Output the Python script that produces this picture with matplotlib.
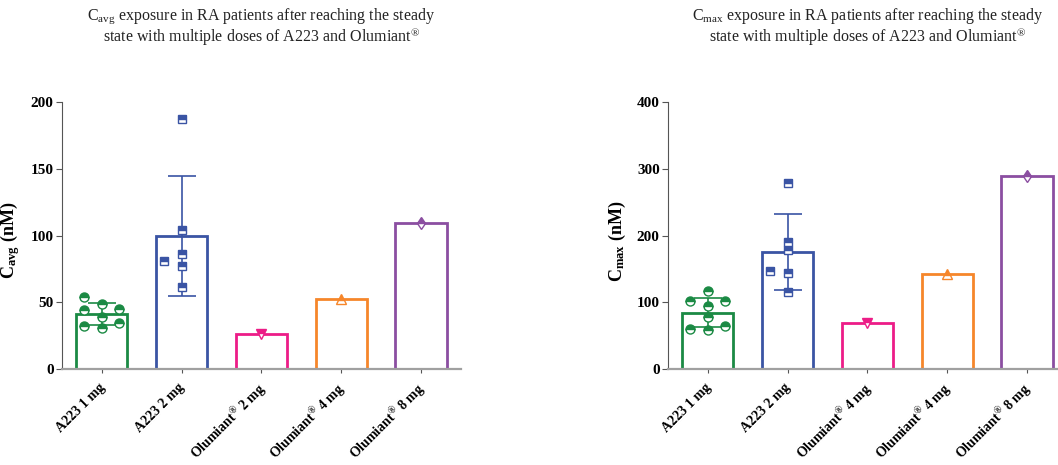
import matplotlib
matplotlib.use('Agg')
import matplotlib.pyplot as plt
import numpy as np

plt.rcParams['font.family'] = ['Liberation Serif', 'DejaVu Serif']
plt.rcParams['mathtext.fontset'] = 'custom'
plt.rcParams['mathtext.rm'] = 'Liberation Serif'
plt.rcParams['mathtext.it'] = 'Liberation Serif:italic'
plt.rcParams['mathtext.bf'] = 'Liberation Serif:bold'

# 数据
cats_avg = ['A223 1 mg', 'A223 2 mg', r'Olumiant$^{\mathregular{®}}$ 2 mg',
            r'Olumiant$^{\mathregular{®}}$ 4 mg', r'Olumiant$^{\mathregular{®}}$ 8 mg']
cats_max = ['A223 1 mg', 'A223 2 mg', r'Olumiant$^{\mathregular{®}}$ 4 mg',
            r'Olumiant$^{\mathregular{®}}$ 4 mg', r'Olumiant$^{\mathregular{®}}$ 8 mg']

cavg_a223_1 = [54.2, 44.0, 48.5, 44.9, 39.2, 34.2, 32.2, 30.9]
cavg_a223_2 = [187.3, 103.9, 85.9, 81.1, 77.2, 61.7]
cavg_olu = [26.0, 52.7, 109.4]

cmax_a223_1 = [116.4, 101.9, 101.9, 94.9, 77.9, 64.9, 59.9, 57.9]
cmax_a223_2 = [278.2, 190.3, 178.3, 146.8, 143.8, 115.8]
cmax_olu = [69.4, 142.3, 289.1]

colors = ['#1b8a44', '#3a54a4', '#ec1c87', '#f6862a', '#8b4ea1']
markers = ['o', 's', 'v', '^', 'd']
msizes = [6.5, 5.5, 6.5, 6.5, 6.5]


def swarm(vals, ypx, step=0.11, mind=8.0):
    # 简单的蜂群排布, 避免点重叠
    order = np.argsort(vals)
    placed = []
    offs = np.zeros(len(vals))
    cand = [0, -2, 2, -1, 1, -3, 3, -4, 4]
    for i in order:
        y = vals[i] * ypx
        for c in cand:
            x = c * step * 80
            if all(np.hypot(x - px, y - py) >= mind for px, py in placed):
                break
        placed.append((x, y))
        offs[i] = c * step
    return offs


def draw(ax, cats, groups, ymax, ystep, ylab, title):
    ypx = 267.0 / ymax
    xs = np.arange(len(cats))
    means = [np.mean(g) for g in groups]
    ax.bar(xs, means, width=0.64, facecolor='white', edgecolor=colors, linewidth=2, zorder=1)
    for i, g in enumerate(groups):
        g = np.asarray(g, dtype=float)
        if len(g) > 1:
            sd = np.std(g, ddof=1)
            ax.errorbar(xs[i], means[i], yerr=sd, color=colors[i], capsize=10,
                        elinewidth=1.2, capthick=1.2, zorder=2)
        offs = swarm(g, ypx)
        ax.plot(xs[i] + offs, g, linestyle='none', marker=markers[i], markersize=msizes[i],
                color=colors[i], fillstyle='top', markerfacecoloralt='white',
                markeredgecolor=colors[i], markeredgewidth=1.0, zorder=3)
    ax.set_xlim(-0.5, 4.5)
    ax.set_ylim(0, ymax)
    ax.set_yticks(np.arange(0, ymax + 1, ystep))
    ax.set_xticks(xs)
    ax.set_xticklabels(cats, rotation=45, ha='right', va='center_baseline', rotation_mode='anchor',
                       fontweight='bold', fontsize=10)
    for lab in ax.get_yticklabels():
        lab.set_fontweight('bold')
        lab.set_fontsize(11)
    ax.spines['top'].set_visible(False)
    ax.spines['right'].set_visible(False)
    ax.spines['left'].set_color('#555555')
    ax.spines['bottom'].set_color('#a0a0a0')
    ax.spines['bottom'].set_linewidth(1.6)
    ax.tick_params(axis='y', length=4, color='#555555', pad=2)
    ax.tick_params(axis='x', length=3, color='#555555', pad=8)
    ax.set_ylabel(ylab, fontweight='bold', fontsize=13)
    ax.yaxis.set_label_coords(-0.10, 0.48)
    ax.set_title(title, fontsize=11.5, pad=43, linespacing=1.05, color='#222222')


fig = plt.figure(figsize=(10.58, 4.65), dpi=100)
ax1 = fig.add_axes([0.0586, 0.2065, 0.377, 0.574])
ax2 = fig.add_axes([0.6314, 0.2065, 0.377, 0.574])

draw(ax1, cats_avg, [cavg_a223_1, cavg_a223_2] + [[v] for v in cavg_olu], 200, 50,
     r'$\mathregular{C_{avg}}$ (nM)',
     r'$\mathregular{C_{avg}}$ exposure in RA patients after reaching the steady' + '\n'
     + r'state with multiple doses of A223 and Olumiant$^{\mathregular{®}}$')
draw(ax2, cats_max, [cmax_a223_1, cmax_a223_2] + [[v] for v in cmax_olu], 400, 100,
     r'$\mathregular{C_{max}}$ (nM)',
     r'$\mathregular{C_{max}}$ exposure in RA patients after reaching the steady' + '\n'
     + r'state with multiple doses of A223 and Olumiant$^{\mathregular{®}}$')

fig.savefig('out.png', dpi=100)
